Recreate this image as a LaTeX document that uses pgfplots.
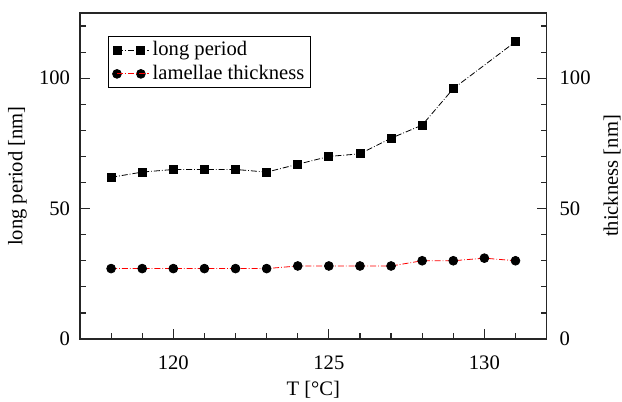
\documentclass[border=0pt]{standalone}
\usepackage{fontspec}
\setmainfont{Liberation Serif}
\usepackage{pgfplots}
\pgfplotsset{compat=1.18}
\begin{document}
\begin{tikzpicture}
\pgfplotsset{
  common/.style={
    scale only axis, width=233.3pt, height=163pt,
    xmin=117, xmax=132, ymin=0, ymax=125,
    ytick={0,50,100}, minor ytick={10,20,30,40,60,70,80,90,110,120},
    tick align=inside,
    major tick length=5pt, minor tick length=3pt,
    axis line style={line width=0.6pt, black!85},
    every tick/.style={line width=0.6pt, black!85},
    /pgf/number format/assume math mode=true,
    label style={font=\fontsize{10.3}{12}\selectfont},
    tick label style={font=\fontsize{10.3}{12}\selectfont},
  }
}
\begin{axis}[common,
  xtick={120,125,130},
  minor xtick={118,119,121,122,123,124,126,127,128,129,131},
  xtick pos=bottom, ytick pos=left,
  xticklabel style={yshift=-5pt},
  yticklabel style={xshift=-1.5pt},
  xlabel={T [°C]},
  ylabel={long period [nm]},
  xlabel style={at={(axis description cs:0.5,0)}, anchor=center, yshift=-25.5pt},
  ylabel style={at={(axis description cs:0,0.5)}, anchor=center, yshift=31.25pt},
  legend style={at={(axis description cs:0.06,0.929)}, anchor=north west,
    draw=black, line width=0.6pt, font=\fontsize{10.3}{12}\selectfont,
    inner xsep=2pt, inner ysep=0.8pt, row sep=0pt,
    nodes={inner xsep=1.2pt, inner ysep=1.6pt}, cells={anchor=west}},
  legend image code/.code={\draw[#1] plot coordinates {(0cm,0cm) (0.42cm,0cm)};
    \path (0cm,0cm) -- (0.42cm+4.5pt,0cm);},
]
\addplot[black, densely dashdotted, line width=0.4pt, mark=square*, mark size=2pt,
  mark options={solid}] coordinates {
  (118,62) (119,64) (120,65) (121,65) (122,65) (123,64) (124,67)
  (125,70) (126,71) (127,77) (128,82) (129,96) (131,114)};
\addlegendentry{long period}
\addplot[red, densely dashdotted, line width=0.4pt, mark=*, mark size=2.2pt,
  mark options={solid, fill=black, draw=black}] coordinates {
  (118,27) (119,27) (120,27) (121,27) (122,27) (123,27) (124,28)
  (125,28) (126,28) (127,28) (128,30) (129,30) (130,31) (131,30)};
\addlegendentry{lamellae thickness}
\end{axis}
\begin{axis}[common,
  axis x line=none, axis y line*=right,
  yticklabel style={xshift=3pt},
  ylabel={thickness [nm]},
  ylabel style={at={(axis description cs:1,0.5)}, anchor=center, yshift=-32.7pt},
]
\end{axis}
\pgfresetboundingbox
\path (-40pt,-31.5pt) rectangle (271pt,169.5pt);
\end{tikzpicture}
\end{document}
